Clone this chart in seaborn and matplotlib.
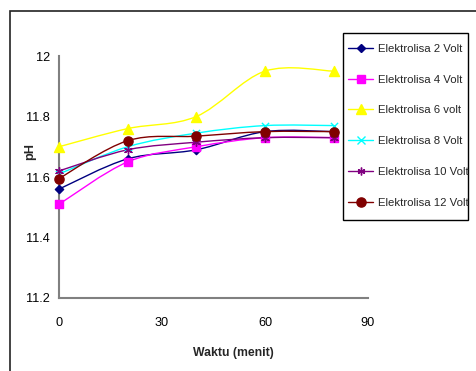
import numpy as np
import pandas as pd
import seaborn as sns
import matplotlib
matplotlib.use("Agg")
import matplotlib.pyplot as plt
from matplotlib.path import Path
from matplotlib.patches import PathPatch, Rectangle
from matplotlib.lines import Line2D

# pH measured during electrolysis at different voltages
waktu = [0, 20, 40, 60, 80]
ph_2v = [11.56, 11.66, 11.69, 11.75, 11.75]
ph_4v = [11.51, 11.65, 11.70, 11.73, 11.73]
ph_6v = [11.70, 11.76, 11.80, 11.95, 11.95]
ph_8v = [11.61, 11.70, 11.745, 11.77, 11.77]
ph_10v = [11.62, 11.69, 11.715, 11.73, 11.73]
ph_12v = [11.595, 11.72, 11.735, 11.75, 11.75]
labels = ["Elektrolisa 2 Volt", "Elektrolisa 4 Volt", "Elektrolisa 6 volt",
          "Elektrolisa 8 Volt", "Elektrolisa 10 Volt", "Elektrolisa 12 Volt"]
x_ticks = [0, 30, 60, 90]
y_ticks = [11.2, 11.4, 11.6, 11.8, 12.0]
y_tick_labels = ["11.2", "11.4", "11.6", "11.8", "12"]

series = [ph_2v, ph_4v, ph_6v, ph_8v, ph_10v, ph_12v]
colors = ["#000080", "#FF00FF", "#FFFF00", "#00FFFF", "#800080", "#800000"]
markers = ["D", "s", "^", "x", (6, 2, 0), "o"]
msizes = [4.2, 5.8, 7.2, 5.2, 5.6, 6.6]

df = pd.concat(
    [pd.DataFrame({"Waktu": waktu, "pH": vals, "Seri": lab})
     for vals, lab in zip(series, labels)],
    ignore_index=True,
)

sns.set_style("white")
plt.rcParams["font.family"] = ["Liberation Sans", "DejaVu Sans"]

fig = plt.figure(figsize=(4.77, 3.71), dpi=100)
W, H = 477, 371
ax = fig.add_axes([59 / W, 1 - 298 / H, (368 - 59) / W, (298 - 56) / H])


def smooth_path(xs, ys):
    """Cardinal-spline Bezier path through the points (smoothed line)."""
    pts = np.column_stack([xs, ys]).astype(float)
    n = len(pts)
    verts = [pts[0]]
    codes = [Path.MOVETO]
    for i in range(n - 1):
        p0 = pts[max(i - 1, 0)]
        p1 = pts[i]
        p2 = pts[i + 1]
        p3 = pts[min(i + 2, n - 1)]
        c1 = p1 + (p2 - p0) / 6.0
        c2 = p2 - (p3 - p1) / 6.0
        verts += [c1, c2, p2]
        codes += [Path.CURVE4] * 3
    return Path(verts, codes)


for lab, col, mk, ms in zip(labels, colors, markers, msizes):
    sub = df[df["Seri"] == lab]
    ax.add_patch(PathPatch(smooth_path(sub["Waktu"], sub["pH"]), facecolor="none",
                           edgecolor=col, lw=1.0, clip_on=False, zorder=2))
    sns.scatterplot(data=sub, x="Waktu", y="pH", ax=ax, marker=mk, s=ms ** 2,
                    color=col, edgecolor=col, linewidth=1.0, clip_on=False,
                    zorder=3, legend=False)

ax.set_xlim(0, 90)
ax.set_ylim(11.2, 12.0)
ax.set_xticks(x_ticks)
ax.set_yticks(y_ticks)
ax.set_yticklabels(y_tick_labels)

for side in ["top", "right"]:
    ax.spines[side].set_visible(False)
for side in ["left", "bottom"]:
    ax.spines[side].set_color("#808080")
    ax.spines[side].set_linewidth(1.5)

ax.tick_params(axis="both", direction="out", length=3, width=1, color="#808080",
               labelsize=9.2, labelcolor="black")
ax.tick_params(axis="x", pad=11)
ax.tick_params(axis="y", pad=3.5)

ax.set_xlabel("Waktu (menit)", fontsize=8.8, fontweight="bold")
ax.set_ylabel("pH", fontsize=9.2, fontweight="bold")
ax.xaxis.set_label_coords((233 - 59) / (368 - 59), -(353 - 298) / (298 - 56), transform=ax.transAxes)
ax.yaxis.set_label_coords(-(59 - 30) / (368 - 59), (298 - 152) / (298 - 56), transform=ax.transAxes)
ax.xaxis.label.set_va("center")
ax.yaxis.label.set_va("center")

# legend box
fig.patches.append(Rectangle((343 / W, 1 - 220 / H), (468 - 343) / W, (220 - 33) / H,
                             transform=fig.transFigure, facecolor="white",
                             edgecolor="black", lw=1.0, zorder=4))

handles = [Line2D([], [], color=c, marker=m, markersize=ms, lw=1.0,
                  markeredgecolor=c, markerfacecolor=c)
           for c, m, ms in zip(colors, markers, msizes)]
leg = fig.legend(handles, labels, loc="upper left",
                 bbox_to_anchor=(348 / W, 1 - 44 / H), fontsize=8.2,
                 frameon=False, handlelength=2.2,
                 handletextpad=0.4, labelspacing=1.82, borderpad=0,
                 borderaxespad=0)
leg.set_zorder(5)

# outer chart-area frame
fig.patches.append(Rectangle((10 / W, -0.1), 1.2, 1 - 11 / H + 0.1,
                             transform=fig.transFigure, fill=False,
                             edgecolor="#222222", lw=1.2))

fig.savefig("out.png", dpi=100)
